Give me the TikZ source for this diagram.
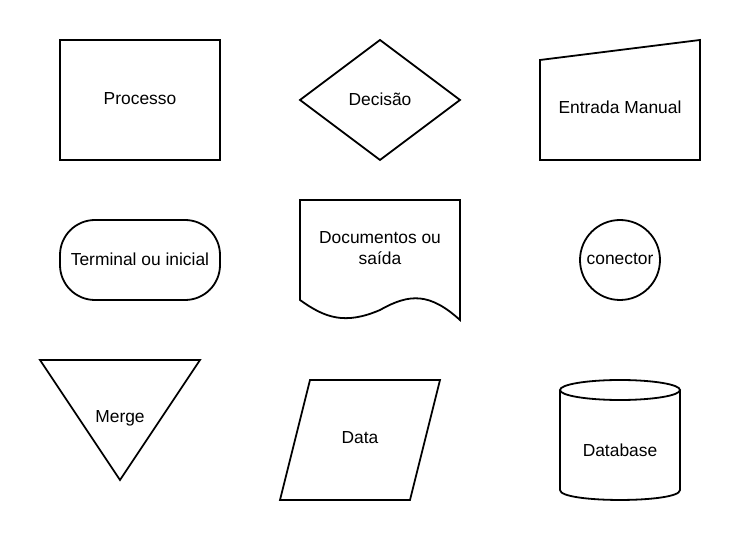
\documentclass[tikz,border=0pt]{standalone}
\usepackage{fontspec}
\setmainfont{Liberation Sans}

\begin{document}
\begin{tikzpicture}[x=1pt, y=-1pt,
    forma/.style={draw, line width=1.8pt, line join=miter},
    rotulo/.style={font=\fontsize{17.4}{21}\selectfont, align=center}]
    \useasboundingbox (0,0) rectangle (740,540);
    \draw[forma] (60,40) rectangle (220,160);
    \draw[forma] (380,40) -- (460,100) -- (380,160) -- (300,100) -- cycle;
    \draw[forma] (540,60) -- (700,40) -- (700,160) -- (540,160) -- cycle;
    \draw[forma, rounded corners=35pt] (60,220) rectangle (220,300);
    \draw[forma] (300,200) -- (300,300) .. controls (325,318) and (345,325) .. (380,310)
        .. controls (410,293) and (430,293) .. (460,320) -- (460,200) -- cycle;
    \draw[forma] (620,260) circle[radius=40];
    \draw[forma] (40,360) -- (200,360) -- (120,480) -- cycle;
    \draw[forma] (310,380) -- (440,380) -- (410,500) -- (280,500) -- cycle;
    \draw[forma] (560,390) -- (560,490) .. controls (560,503.3) and (680,503.3) .. (680,490) -- (680,390);
    \draw[forma] (620,390) ellipse[x radius=60, y radius=10];

    \node[rotulo] (processo) at (140,99) {Processo};
    \node[rotulo] (decisao) at (380,99) {Decisão};
    \node[rotulo] (entrada) at (620,107) {Entrada Manual};
    \node[rotulo] (terminal) at (140,259) {Terminal ou inicial};
    \node[rotulo] (documento) at (380,248) {Documentos ou\\saída};
    \node[rotulo] (conector) at (620,259) {conector};
    \node[rotulo] (merge) at (120,418) {Merge};
    \node[rotulo] (data) at (360,438) {Data};
    \node[rotulo] (database) at (620,450) {Database};
  \end{tikzpicture}
\end{document}
